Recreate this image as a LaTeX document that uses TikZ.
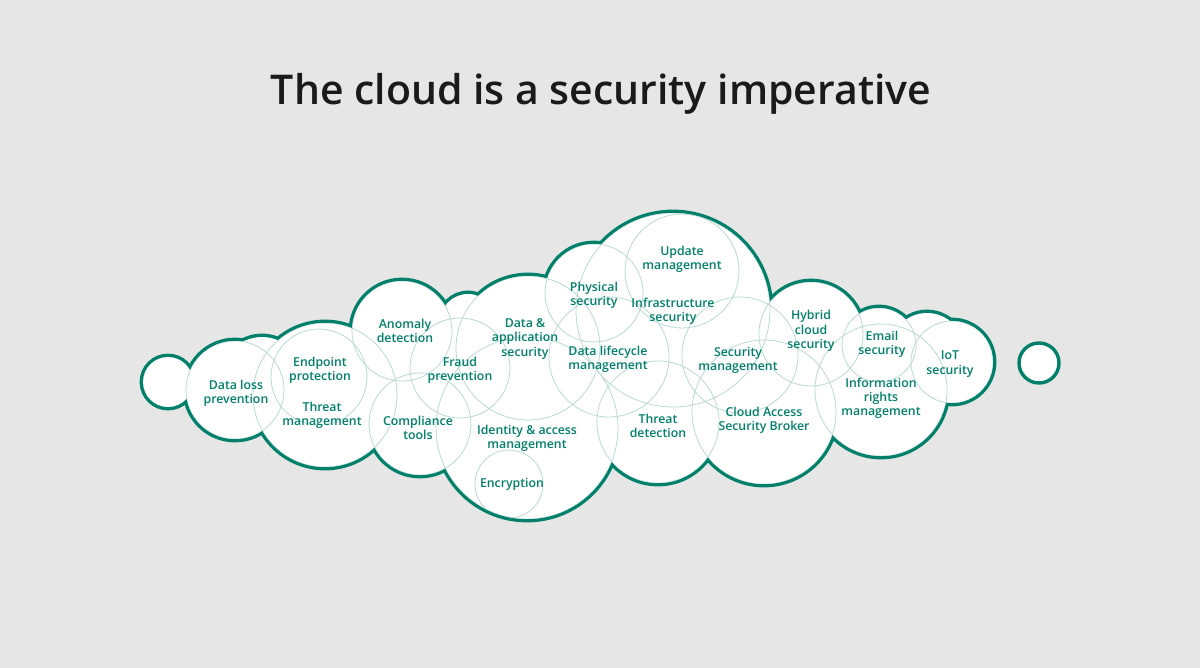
\documentclass[tikz,border=0pt]{standalone}
\usepackage{fontspec}
\IfFontExistsTF{Open Sans Semibold}
  {\setmainfont{Open Sans Semibold}}
  {\IfFontExistsTF{Open Sans SemiBold:wght=600}
    {\setmainfont{Open Sans SemiBold:wght=600}}
    {\setmainfont{Open Sans}[UprightFont={* Bold}]}}
\definecolor{cloudteal}{RGB}{0,128,106}
\definecolor{cloudthin}{RGB}{186,217,212}
\definecolor{cloudbg}{RGB}{230,230,230}
\definecolor{titlegray}{RGB}{26,26,26}
% puffs that make the outline of the cloud: x/y/radius in px
\newcommand{\cloudpuffs}{168/382/25, 235/390/49, 262/378/41, 325/395/72,
  319/377/48, 402/331/50, 468/322/28, 460/368/50, 420/424/51, 528/348/72,
  527/428/91, 594/293/49, 609/357/60, 673/310/97, 658/422/61, 740/355/58,
  764/412/72, 811/334/52, 879/345/37, 927/350/37, 952/362/41, 881/390/66}
% thin rings inside the cloud
\newcommand{\cloudrings}{235/390/49, 325/395/72, 319/377/48, 402/331/50,
  460/368/50, 420/424/51, 528/348/72, 527/428/91, 509/484/34, 594/293/49,
  682/271/57, 673/310/97, 609/357/60, 658/422/61, 740/355/58, 764/412/72,
  811/334/52, 879/345/37, 952/362/41, 881/390/66}
\tikzset{
  topic/.style={font=\fontsize{12.3}{14.2}\selectfont, text=cloudteal, align=center, inner sep=0pt},
  rim/.style={draw=cloudteal, line width=6.8pt},
  ring/.style={draw=cloudthin, line width=0.8pt}
}

\begin{document}
\begin{tikzpicture}[x=1pt,y=-1pt]
\fill[cloudbg] (0,0) rectangle (1200,668);
\useasboundingbox (0,0) rectangle (1200,668);
% Title
\node[anchor=base, font=\fontsize{41}{48}\selectfont, text=titlegray] (title) at (601,105) {The cloud is a security imperative};
% Cloud outline
\foreach \cx/\cy/\r in \cloudpuffs
  \draw[rim] (\cx,\cy) circle[radius=\r pt];
\foreach \cx/\cy/\r in \cloudpuffs
  \fill[white] (\cx,\cy) circle[radius=\r pt];
\begin{scope}
\clip foreach \cx/\cy/\r in \cloudpuffs {(\cx,\cy) circle[radius=\r pt]};
\foreach \cx/\cy/\r in \cloudrings
  \draw[ring] (\cx,\cy) circle[radius=\r pt];
\end{scope}
% Loose puff on the right
\draw[draw=cloudteal, line width=3.4pt, fill=white] (1039,363) circle[radius=20pt];
% Topics
\node[topic] (dlp) at (236,393) {Data loss\\prevention};
\node[topic] (endpoint) at (320,370) {Endpoint\\protection};
\node[topic] (threatmgmt) at (322,415) {Threat\\management};
\node[topic] (anomaly) at (405,331) {Anomaly\\detection};
\node[topic] (fraud) at (460,370) {Fraud\\prevention};
\node[topic] (compliance) at (418,428) {Compliance\\tools};
\node[topic] (dataapp) at (525,339) {Data \&\\application\\security};
\node[topic] (physical) at (594,295) {Physical\\security};
\node[topic] (update) at (682,259) {Update\\management};
\node[topic] (infra) at (673,311) {Infrastructure\\security};
\node[topic] (lifecycle) at (608,359) {Data lifecycle\\management};
\node[topic] (secmgmt) at (738,360) {Security\\management};
\node[topic] (hybrid) at (811,331) {Hybrid\\cloud\\security};
\node[topic] (email) at (882,344) {Email\\security};
\node[topic] (iot) at (950,364) {IoT\\security};
\node[topic] (irm) at (881,398) {Information\\rights\\management};
\node[topic] (casb) at (764,420) {Cloud Access\\Security Broker};
\node[topic] (threatdet) at (658,426) {Threat\\detection};
\node[topic] (identity) at (527,438) {Identity \& access\\management};
\node[topic] (encryption) at (512,484) {Encryption};
\end{tikzpicture}
\end{document}
